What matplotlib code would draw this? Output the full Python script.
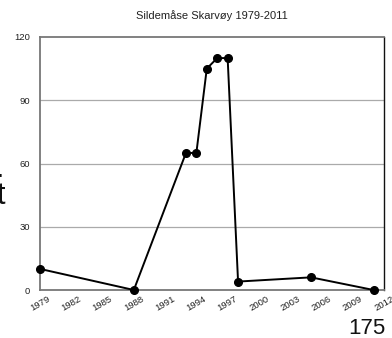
import matplotlib
matplotlib.use("Agg")
import matplotlib.pyplot as plt

years = [1979, 1988, 1993, 1994, 1995, 1996, 1997, 1998, 2005, 2011]
counts = [10, 0, 65, 65, 105, 110, 110, 4, 6, 0]
xticks = [1979, 1982, 1985, 1988, 1991, 1994, 1997, 2000, 2003, 2006, 2009, 2012]
yticks = [0, 30, 60, 90, 120]
title = "Sildemåse Skarvøy 1979-2011"

plt.rcParams['font.family'] = ['Liberation Sans', 'DejaVu Sans']

W, H = 392, 338
fig = plt.figure(figsize=(W / 100, H / 100), dpi=100)
ax = fig.add_axes([40 / W, 1 - 290 / H, (384 - 40) / W, (290 - 37) / H])

ax.plot(years, counts, color='black', lw=1.4, marker='o', ms=5.5, zorder=3, clip_on=False)

ax.set_xlim(1979, 2012)
ax.set_ylim(0, 120)
ax.set_xticks(xticks)
ax.set_xticklabels([str(t) for t in xticks], rotation=30, ha='center', fontsize=6.8, color='#222222')
ax.set_yticks(yticks)
ax.set_yticklabels([str(t) for t in yticks], fontsize=6.8, color='#222222')
ax.tick_params(length=0, pad=7)
ax.tick_params(axis='x', pad=3)

for v in [30, 60, 90]:
    ax.axhline(v, color='#aaaaaa', lw=0.9, zorder=1)

for s in ['left', 'bottom', 'top']:
    ax.spines[s].set_color('#777777')
    ax.spines[s].set_linewidth(1.3)
ax.spines['right'].set_color('#111111')
ax.spines['right'].set_linewidth(1.0)

fig.text(0.5 * (40 + 384) / W, 1 - 16 / H, title, ha='center', va='center', fontsize=8, color='#222222')

fig.text(385 / W, 1 - 334 / H, "175", ha='right', va='baseline', fontsize=16, color='#111111')
fig.text(-4 / W, 1 - 204 / H, "t", ha='left', va='baseline', fontsize=22, color='#111111')
fig.text(-5 / W, 1 - 177 / H, ".", ha='left', va='baseline', fontsize=22, color='#111111')

fig.savefig("out.png", dpi=100)
